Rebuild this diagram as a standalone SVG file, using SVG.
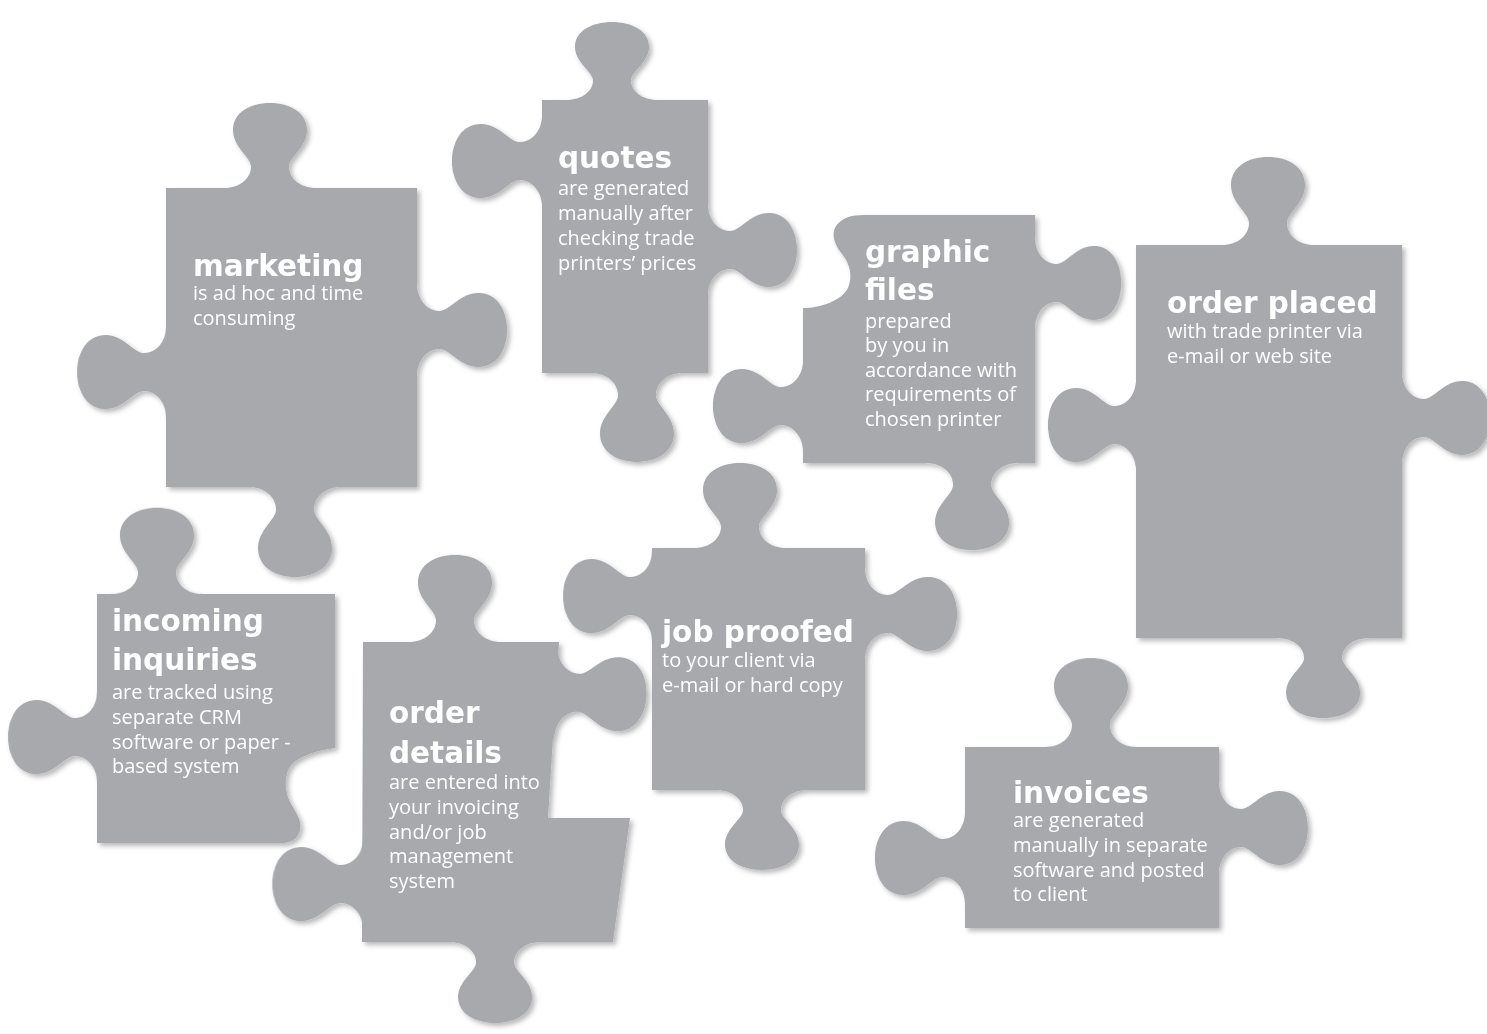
<svg xmlns="http://www.w3.org/2000/svg" xmlns:xlink="http://www.w3.org/1999/xlink" width="1487" height="1034" viewBox="0 0 1487 1034">
  <defs>
    <style>
      .shape { fill: #a7a9ac; filter: url(#shadow); }
      .title { font-family: "DejaVu Sans", "Liberation Sans", sans-serif; font-weight: bold; font-size: 29.5px; fill: #ffffff; }
      .body { font-family: "Open Sans", "Noto Sans", sans-serif; font-size: 20px; fill: #ffffff; }
    </style>
    <filter id="shadow" x="-15%" y="-15%" width="140%" height="140%">
      <feDropShadow dx="3" dy="3" stdDeviation="2.5" flood-color="#000000" flood-opacity="0.28"/>
    </filter>
    <!-- puzzle tab, base centred on the origin, pointing up (length 88) -->
    <path id="knob" d="M-46,3 L-46,0 C-30,0 -19,-10 -19,-22 C-19,-32 -37,-42 -37,-60 C-37,-78 -20,-88 0,-88 C20,-88 37,-78 37,-60 C37,-42 19,-32 19,-22 C19,-10 30,0 46,0 L46,3 Z"/>
  </defs>

  <rect width="1487" height="1034" fill="#ffffff"/>

  <!-- marketing -->
  <g id="marketing">
    <g class="shape">
      <rect x="166" y="188" width="251" height="299"/>
      <use xlink:href="#knob" transform="translate(270,188) scale(1,0.966)"/>
      <use xlink:href="#knob" transform="translate(417,330) rotate(90) scale(1,1.023)"/>
      <use xlink:href="#knob" transform="translate(166,372) rotate(-90) scale(1,1.01)"/>
      <use xlink:href="#knob" transform="translate(295,487) rotate(180) scale(1,1.023)"/>
    </g>
    <text class="title" x="193" y="276">marketing</text>
    <text class="body" x="193" y="300">is ad hoc and time</text>
    <text class="body" x="193" y="325">consuming</text>
  </g>

  <!-- quotes -->
  <g id="quotes">
    <g class="shape">
      <rect x="542" y="100" width="166" height="273"/>
      <use xlink:href="#knob" transform="translate(612,100) scale(1,0.886)"/>
      <use xlink:href="#knob" transform="translate(542,161) rotate(-90) scale(1,1.023)"/>
      <use xlink:href="#knob" transform="translate(708,250) rotate(90) scale(1,1.01)"/>
      <use xlink:href="#knob" transform="translate(637,373) rotate(180) scale(1,1.01)"/>
    </g>
    <text class="title" x="558" y="168">quotes</text>
    <text class="body" x="558" y="195">are generated</text>
    <text class="body" x="558" y="220">manually after</text>
    <text class="body" x="558" y="245">checking trade</text>
    <text class="body" x="558" y="270">printers’ prices</text>
  </g>

  <!-- graphic files -->
  <g id="graphic-files">
    <g class="shape">
      <path d="M1035,215 L1035,463 L803,463 L803,308 C822,308 842,300 848,288 C853,276 850,264 842,254 C834,244 831,234 836,226 C842,218 850,215 865,215 Z"/>
      <use xlink:href="#knob" transform="translate(1035,283) rotate(90) scale(1,0.98)"/>
      <use xlink:href="#knob" transform="translate(803,406) rotate(-90) scale(1,1.023)"/>
      <use xlink:href="#knob" transform="translate(972,463) rotate(180) scale(1,0.99)"/>
    </g>
    <text class="title" x="865" y="262">graphic</text>
    <text class="title" x="865" y="300">files</text>
    <text class="body" x="865" y="328">prepared</text>
    <text class="body" x="865" y="352">by you in</text>
    <text class="body" x="865" y="377">accordance with</text>
    <text class="body" x="865" y="401">requirements of</text>
    <text class="body" x="865" y="426">chosen printer</text>
  </g>

  <!-- order placed -->
  <g id="order-placed">
    <g class="shape">
      <rect x="1136" y="245" width="266" height="393"/>
      <use xlink:href="#knob" transform="translate(1268,245)"/>
      <use xlink:href="#knob" transform="translate(1136,425) rotate(-90)"/>
      <use xlink:href="#knob" transform="translate(1402,418) rotate(90)"/>
      <use xlink:href="#knob" transform="translate(1323,638) rotate(180) scale(1,0.91)"/>
    </g>
    <text class="title" x="1167" y="313">order placed</text>
    <text class="body" x="1167" y="338">with trade printer via</text>
    <text class="body" x="1167" y="363">e-mail or web site</text>
  </g>

  <!-- incoming inquiries -->
  <g id="incoming-inquiries">
    <g class="shape">
      <path d="M97,594 L335,594 L335,748 C318,750 300,756 292,764 C284,773 284,790 290,802 C296,813 302,820 300,830 C298,838 292,843 282,843 L97,843 Z"/>
      <use xlink:href="#knob" transform="translate(157,594) scale(1,0.98)"/>
      <use xlink:href="#knob" transform="translate(97,737) rotate(-90) scale(1,1.01)"/>
    </g>
    <text class="title" x="112" y="631">incoming</text>
    <text class="title" x="112" y="670">inquiries</text>
    <text class="body" x="112" y="699">are tracked using</text>
    <text class="body" x="112" y="724">separate CRM</text>
    <text class="body" x="112" y="749">software or paper -</text>
    <text class="body" x="112" y="773">based system</text>
  </g>

  <!-- order details -->
  <g id="order-details">
    <g class="shape">
      <path d="M363,642 L559,642 L548,818 L630,818 L613,942 L362,942 Z"/>
      <use xlink:href="#knob" transform="translate(455,642) scale(1,0.99)"/>
      <use xlink:href="#knob" transform="translate(556,692) rotate(92) scale(1,1.03)"/>
      <use xlink:href="#knob" transform="translate(363,884) rotate(-90) scale(1,1.03)"/>
      <use xlink:href="#knob" transform="translate(495,942) rotate(180) scale(1,0.92)"/>
    </g>
    <text class="title" x="389" y="723">order</text>
    <text class="title" x="389" y="763">details</text>
    <text class="body" x="389" y="789">are entered into</text>
    <text class="body" x="389" y="814">your invoicing</text>
    <text class="body" x="389" y="839">and/or job</text>
    <text class="body" x="389" y="863">management</text>
    <text class="body" x="389" y="888">system</text>
  </g>

  <!-- job proofed -->
  <g id="job-proofed">
    <g class="shape">
      <rect x="652" y="548" width="213" height="242"/>
      <use xlink:href="#knob" transform="translate(740,548) scale(1,0.966)"/>
      <use xlink:href="#knob" transform="translate(652,596) rotate(-90) scale(1,1.01)"/>
      <use xlink:href="#knob" transform="translate(865,614) rotate(90) scale(1,1.045)"/>
      <use xlink:href="#knob" transform="translate(762,790) rotate(180) scale(1,0.91)"/>
    </g>
    <text class="title" x="662" y="642">job proofed</text>
    <text class="body" x="662" y="667">to your client via</text>
    <text class="body" x="662" y="692">e-mail or hard copy</text>
  </g>

  <!-- invoices -->
  <g id="invoices">
    <g class="shape">
      <rect x="965" y="747" width="254" height="181"/>
      <use xlink:href="#knob" transform="translate(1091,747) scale(1,1.01)"/>
      <use xlink:href="#knob" transform="translate(965,858) rotate(-90) scale(1,1.023)"/>
      <use xlink:href="#knob" transform="translate(1219,828) rotate(90) scale(1,1.01)"/>
    </g>
    <text class="title" x="1013" y="803">invoices</text>
    <text class="body" x="1013" y="827">are generated</text>
    <text class="body" x="1013" y="852">manually in separate</text>
    <text class="body" x="1013" y="877">software and posted</text>
    <text class="body" x="1013" y="901">to client</text>
  </g>
</svg>
